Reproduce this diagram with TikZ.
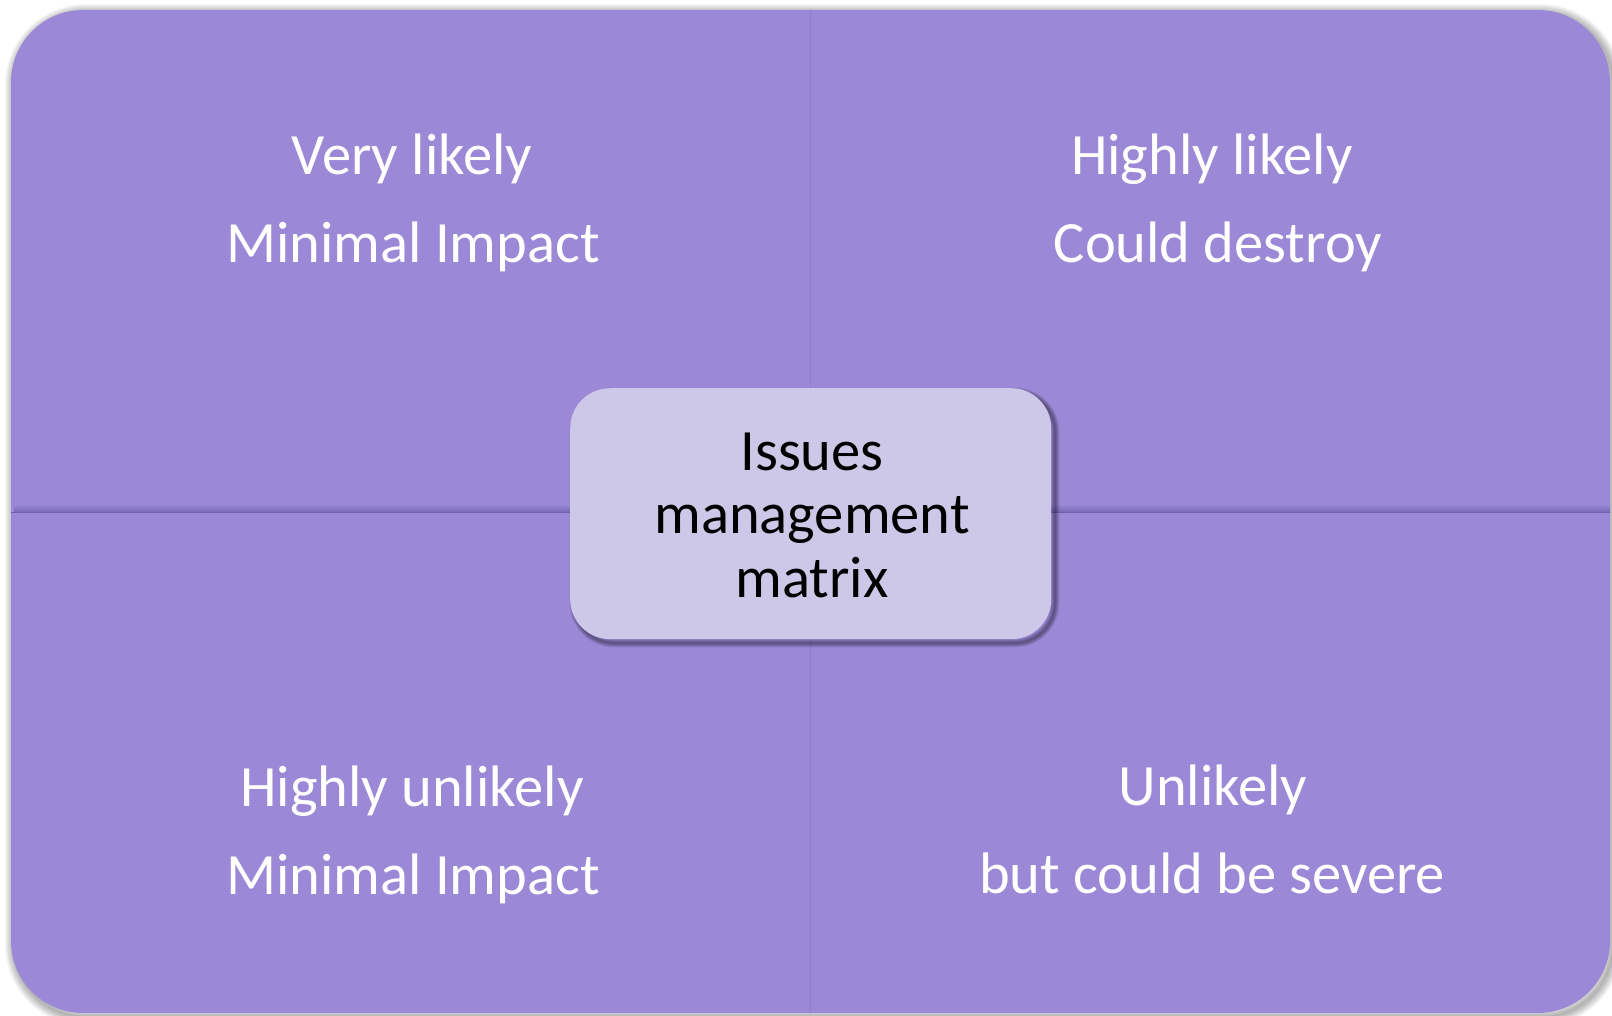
\documentclass[tikz,border=0pt]{standalone}
\usepackage{fontspec}
\setmainfont{Carlito}
\begin{document}
\definecolor{quadfill}{HTML}{9B89D7}
\definecolor{quadline}{HTML}{6F60AE}
\definecolor{hubfill}{HTML}{CDC8E8}
\tikzset{
  quadtext/.style={anchor=base, text=white, inner sep=0pt, font=\fontsize{58.5}{70}\selectfont},
  hubtext/.style={anchor=base, text=black, inner sep=0pt, font=\fontsize{58.5}{70}\selectfont},
}
\begin{tikzpicture}[x=1pt, y=-1pt]
  \useasboundingbox (0,0) rectangle (1612,1016);
  \fill[white] (0,0) rectangle (1612,1016);

  % soft shadow of the matrix panel
  \foreach \w in {2,4,...,18}
    \draw[black, opacity=0.035, line width=\w pt, rounded corners=72pt]
      (14,13) rectangle (1613,1017);

  % the four quadrants as one rounded panel
  \fill[quadfill, rounded corners=72pt] (11,10) rectangle (1610,1013);

  % quadrant dividers
  \shade[top color=quadfill, bottom color=quadline!80!quadfill] (14,504) rectangle (1610,512);
  \draw[quadline, line width=1.2pt] (11,512.5) -- (1610,512.5);
  \draw[quadline!25!quadfill, line width=1pt] (810,10) -- (810,1013);

  % quadrant labels
  \node[quadtext] (tl1) at (412,175) {Very likely};
  \node[quadtext] (tl2) at (413,263) {Minimal Impact};
  \node[quadtext] (tr1) at (1212,175) {Highly likely};
  \node[quadtext] (tr2) at (1218,263) {Could destroy};
  \node[quadtext] (bl1) at (412,806) {Highly unlikely};
  \node[quadtext] (bl2) at (413,894) {Minimal Impact};
  \node[quadtext] (br1) at (1213,805) {Unlikely};
  \node[quadtext] (br2) at (1212,893) {but could be severe};

  % central box with its shadow
  \foreach \w in {1,2,...,9}
    \draw[black, opacity=0.05, line width=\w pt, rounded corners=40pt]
      (574,392) rectangle (1055,643);
  \node[fill=hubfill, rounded corners=40pt, minimum width=481pt, minimum height=251pt,
        inner sep=0pt, anchor=north west] (hub) at (570,388) {};
  \node[hubtext] (h1) at (812,470) {Issues};
  \node[hubtext] (h2) at (812,533) {management};
  \node[hubtext] (h3) at (812,597) {matrix};
\end{tikzpicture}
\end{document}
